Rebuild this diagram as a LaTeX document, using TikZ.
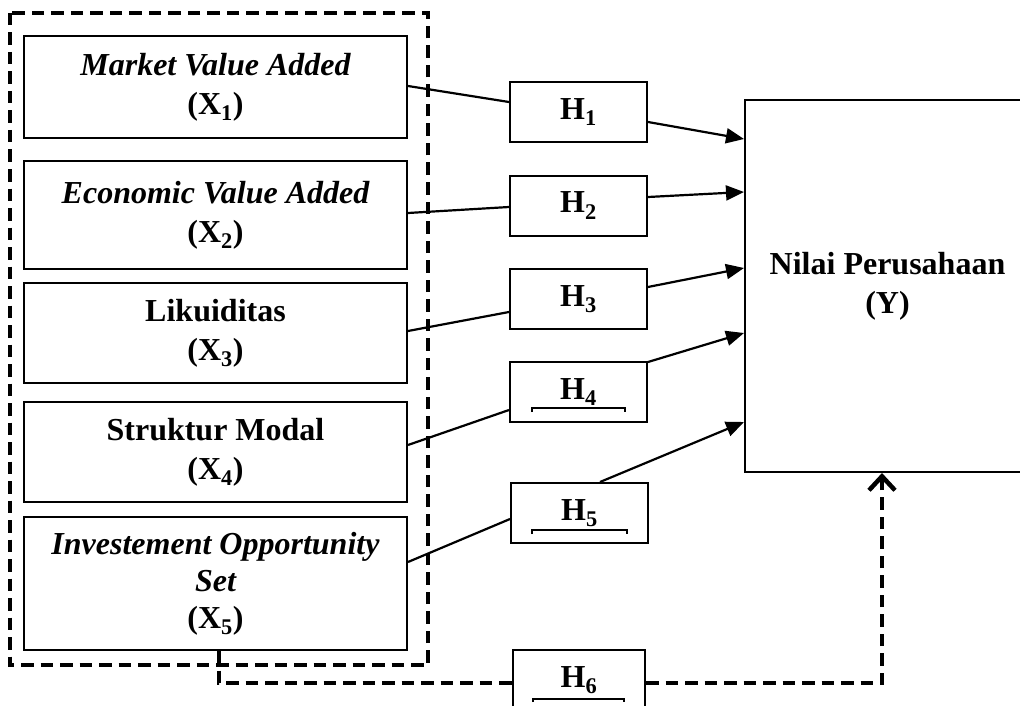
\documentclass[tikz,border=0pt]{standalone}
\usepackage{fontspec}
\setmainfont{Liberation Serif}
\usetikzlibrary{arrows.meta}

\tikzset{
  varbox/.style={draw, line width=2pt, minimum width=383pt, align=center, inner sep=0pt},
  hypbox/.style={draw, line width=2pt, minimum width=137pt, minimum height=60pt, inner sep=0pt},
  link/.style={line width=2.2pt},
  effect/.style={line width=2.2pt, -{Triangle[length=18pt,width=15pt]}},
  groupline/.style={line width=4.5pt, dash pattern=on 12.5pt off 7pt},
  tick/.style={line width=1.3pt},
}

\newcommand{\vname}[1]{{\bfseries\itshape #1}}
\newcommand{\vsym}[1]{{\bfseries (X\textsubscript{#1})}}

\begin{document}
\begin{tikzpicture}[x=1pt, y=-1pt,
  every node/.style={font=\fontsize{32}{39}\selectfont}]
\useasboundingbox (0,0) rectangle (1020,706);

% independent variables
\node[varbox, minimum height=102pt] (b1) at (215.5,87)    {\vname{Market Value Added}\\\vsym{1}};
\node[varbox, minimum height=108pt] (b2) at (215.5,215)   {\vname{Economic Value Added}\\\vsym{2}};
\node[varbox, minimum height=100pt] (b3) at (215.5,333)   {\bfseries Likuiditas\\\vsym{3}};
\node[varbox, minimum height=100pt] (b4) at (215.5,452)   {\bfseries Struktur Modal\\\vsym{4}};
\node[varbox, minimum height=133pt, font=\fontsize{32}{37}\selectfont] (b5) at (215.5,583.5)
  {\vname{Investement Opportunity}\\\vname{Set}\\\vsym{5}};

% grouping frame around the independent variables
\draw[groupline] (10,13) rectangle (428,665);

% hypotheses
\node[hypbox] (h1) at (578.5,112)   {\bfseries H\textsubscript{1}};
\node[hypbox] (h2) at (578.5,205.5) {\bfseries H\textsubscript{2}};
\node[hypbox] (h3) at (578.5,299)   {\bfseries H\textsubscript{3}};
\node[hypbox] (h4) at (578.5,392)   {\bfseries H\textsubscript{4}};
\node[hypbox] (h5) at (579.5,513)   {\bfseries H\textsubscript{5}};
\node[hypbox, minimum width=132pt] (h6) at (579,680) {\bfseries H\textsubscript{6}};

% small brackets under H4, H5, H6
\draw[tick] (532,412) -- (532,408) -- (625,408) -- (625,412);
\draw[tick] (532,534) -- (532,530) -- (627,530) -- (627,534);
\draw[tick] (533,702) -- (533,699) -- (624,699) -- (624,702);

% dependent variable
\node[draw, line width=2pt, minimum width=285pt, minimum height=372pt, align=center, inner sep=0pt]
  (y) at (887.5,286) {\bfseries Nilai Perusahaan\\\bfseries (Y)};

% partial effects
\draw[link]   ([yshift=1pt]b1.east)     -- ([yshift=10pt]h1.west);
\draw[effect] ([yshift=-10pt]h1.east)   -- ([yshift=147pt]y.west);

\draw[link]   ([yshift=2pt]b2.east)     -- ([yshift=-1.5pt]h2.west);
\draw[effect] ([yshift=8.5pt]h2.east)   -- ([yshift=94pt]y.west);

\draw[link]   ([yshift=2pt]b3.east)     -- ([yshift=-13pt]h3.west);
\draw[effect] ([yshift=12pt]h3.east)    -- ([yshift=18pt]y.west);

\draw[link]   ([yshift=7pt]b4.east)     -- ([yshift=-18pt]h4.west);
\draw[effect] ([yshift=-1pt]h4.north east) -- ([yshift=-47pt]y.west);

\draw[link]   ([yshift=21.5pt]b5.east)  -- ([yshift=-6pt]h5.west);
\draw[effect] ([xshift=20.5pt]h5.north) -- ([yshift=-136pt]y.west);

% simultaneous effect
\draw[groupline] ([xshift=3.5pt]b5.south) |- ([yshift=-3pt]h6.west);
\draw[groupline, -{Straight Barb[length=14pt,width=26pt,line join=miter]}]
  ([yshift=-3pt]h6.east) -| ([xshift=-5.5pt]y.south);
\end{tikzpicture}
\end{document}
